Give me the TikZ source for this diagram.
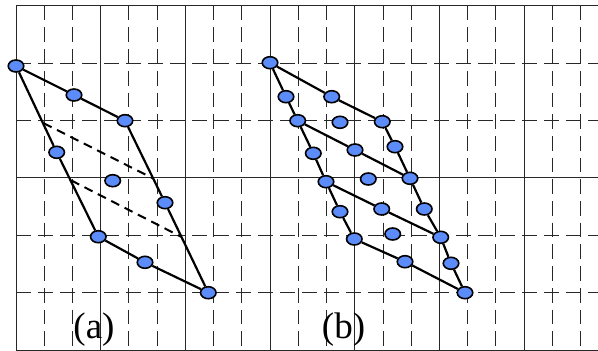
\documentclass[tikz,border=0pt]{standalone}
\usepackage{fontspec}
\setmainfont{Liberation Serif}
\usetikzlibrary{shapes.geometric,calc}
\definecolor{dotblue}{RGB}{92,140,250}
\definecolor{gridc}{RGB}{40,40,40}
\tikzset{
  dot/.style={ellipse,draw=black,fill=dotblue,line width=1.6pt,minimum width=15.5pt,minimum height=12pt,inner sep=0pt},
  edge/.style={line width=2.2pt,black},
  inner dash/.style={line width=2pt,black,dash pattern=on 9pt off 6pt},
  gsolid/.style={line width=0.9pt,gridc},
  hdash/.style={line width=0.9pt,gridc,dash pattern=on 15pt off 7pt},
  vdash/.style={line width=0.9pt,gridc,dash pattern=on 14.7pt off 7pt},
  lab/.style={font=\fontsize{37}{40}\selectfont,anchor=base,inner sep=0pt}
}
\begin{document}
\begin{tikzpicture}[x=1pt,y=-1pt]
\useasboundingbox (0,0) rectangle (598,351);
% grid: vertical lines
\foreach \k in {0,...,20}{
  \pgfmathsetmacro{\xx}{16+\k*28.23}
  \pgfmathtruncatemacro{\m}{mod(\k,3)}
  \ifnum\m=0
    \draw[gsolid] (\xx,5.7) -- (\xx,350.3);
  \else
    \draw[vdash] (\xx,5.7) -- (\xx,350.3);
  \fi
}
% grid: horizontal lines
\foreach \j in {0,...,6}{
  \pgfmathsetmacro{\yy}{5.7+\j*57.4}
  \pgfmathtruncatemacro{\m}{mod(\j,3)}
  \ifnum\m=0
    \draw[gsolid] (16,\yy) -- (598,\yy);
  \else
    \draw[hdash] (16,\yy) -- (598,\yy);
  \fi
}
% (a) nodes
\node[dot] (a0) at (16,66) {};
\node[dot] (a1) at (74,95) {};
\node[dot] (a2) at (125,120.7) {};
\node[dot] (a3) at (56.7,152.3) {};
\node[dot] (a4) at (112.7,180.7) {};
\node[dot] (a5) at (165,202.7) {};
\node[dot] (a6) at (98.3,236.7) {};
\node[dot] (a7) at (145,262.3) {};
\node[dot] (a8) at (208.3,292.7) {};
\coordinate (d1s) at ($(a0.center)!0.335!(a6.center)$);
\coordinate (d1e) at ($(a2.center)!0.335!(a8.center)$);
\coordinate (d2s) at ($(a0.center)!0.67!(a6.center)$);
\coordinate (d2e) at ($(a2.center)!0.675!(a8.center)$);
\draw[inner dash] (d1s) -- (d1e);
\draw[inner dash] (d2s) -- (d2e);
\draw[edge] (a0) -- (a1) -- (a2) -- (a5) -- (a8) -- (a7) -- (a6) -- (a3) -- (a0);
% (b) nodes
\node[dot] (b0) at (270,62.7) {};
\node[dot] (b1) at (286,96.7) {};
\node[dot] (b2) at (331.7,96.7) {};
\node[dot] (b3) at (297.7,120.7) {};
\node[dot] (b4) at (340,122.3) {};
\node[dot] (b5) at (382.3,121.7) {};
\node[dot] (b6) at (313.3,153.3) {};
\node[dot] (b7) at (355,150) {};
\node[dot] (b8) at (395,146.7) {};
\node[dot] (b9) at (326,181.7) {};
\node[dot] (b10) at (368.3,179) {};
\node[dot] (b11) at (410,178.3) {};
\node[dot] (b12) at (340,211.7) {};
\node[dot] (b13) at (381.7,209) {};
\node[dot] (b14) at (424.3,209) {};
\node[dot] (b15) at (392.7,234) {};
\node[dot] (b16) at (354.3,239) {};
\node[dot] (b17) at (440.7,237.3) {};
\node[dot] (b18) at (405,261.7) {};
\node[dot] (b19) at (451,263.3) {};
\node[dot] (b20) at (465,292.7) {};
\draw[edge] (b0) -- (b2) -- (b5);
\draw[edge] (b0) -- (b1) -- (b3) -- (b6) -- (b9) -- (b12) -- (b16);
\draw[edge] (b5) -- (b8) -- (b11) -- (b14) -- (b17) -- (b19) -- (b20);
\draw[edge] (b16) -- (b18) -- (b20);
\draw[edge] (b3) -- (b7) -- (b11);
\draw[edge] (b9) -- (b13) -- (b17);
% labels
\node[lab] (la) at (94,338) {(a)};
\node[lab] (lb) at (343.5,338) {(b)};
\end{tikzpicture}
\end{document}
